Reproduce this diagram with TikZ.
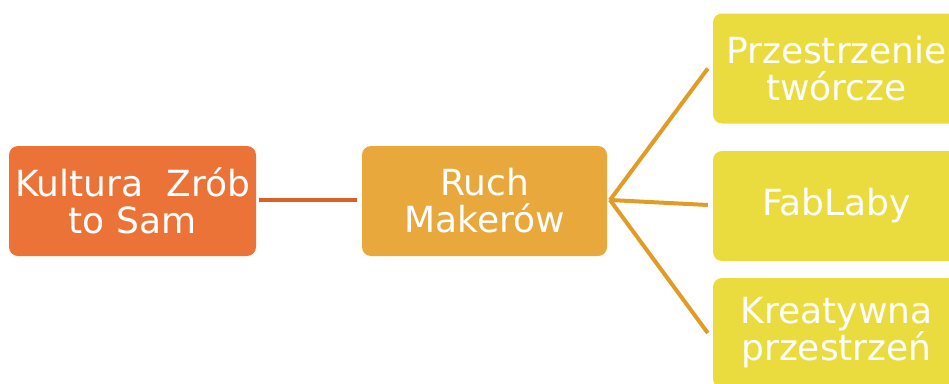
\documentclass[tikz,border=0pt]{standalone}
\usepackage{fontspec}
\setmainfont{DejaVu Sans}
\definecolor{cOrange}{HTML}{EC7338}
\definecolor{cAmber}{HTML}{E8A83C}
\definecolor{cYellow}{HTML}{EADB3E}
\definecolor{lOrange}{HTML}{DD5F26}
\definecolor{lAmber}{HTML}{E29C26}
\tikzset{
  boxnode/.style={rounded corners=9pt, minimum width=247pt, minimum height=110pt,
    inner sep=0pt, text=white, align=center,
    font=\fontsize{36pt}{37pt}\selectfont},
  link/.style={line width=4pt}
}
\begin{document}
\begin{tikzpicture}[x=1pt,y=-1pt]
\useasboundingbox (0,0) rectangle (949,383);
\clip (0,0) rectangle (949,383);
\node[boxnode, fill=cOrange] (k) at (132.5,201) {Kultura\ \ Zrób\\to Sam};
\node[boxnode, fill=cAmber, minimum width=245pt] (r) at (484.5,201) {Ruch\\Makerów};
\node[boxnode, fill=cYellow] (p) at (836.5,68.5) {Przestrzenie\\twórcze};
\node[boxnode, fill=cYellow] (f) at (836.5,206) {FabLaby};
\node[boxnode, fill=cYellow] (c) at (836.5,333) {Kreatywna\\przestrzeń};
\coordinate (hub) at (610,200);
\coordinate (ka) at (259,200);
\coordinate (rb) at (357,200);
\draw[link, draw=lOrange] (ka) -- (rb);
\draw[link, draw=lAmber] (hub) -- ([xshift=-5pt]p.west);
\draw[link, draw=lAmber] (hub) -- ([xshift=-5pt,yshift=1pt]f.west);
\draw[link, draw=lAmber] (hub) -- ([xshift=-5pt]c.west);
\end{tikzpicture}
\end{document}
